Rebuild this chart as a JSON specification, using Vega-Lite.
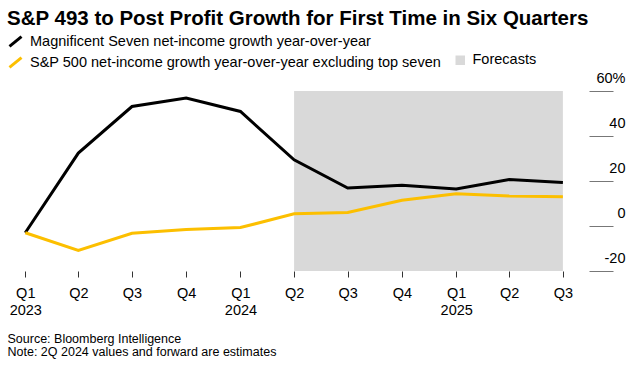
{
  "$schema": "https://vega.github.io/schema/vega-lite/v6.json",
  "width": 606,
  "height": 180,
  "autosize": {"type": "none"},
  "padding": {"left": 7, "top": 91, "right": 21, "bottom": 98},
  "background": "white",
  "config": {"font": "Liberation Sans", "view": {"stroke": null}},
  "title": {
    "text": "S&P 493 to Post Profit Growth for First Time in Six Quarters",
    "anchor": "start",
    "frame": "group",
    "fontSize": 20.5,
    "fontWeight": "bold",
    "color": "#000000",
    "baseline": "alphabetic",
    "offset": -11
  },
  "datasets": {
    "forecast": [
      {"start": "2024-04-01", "end": "2025-07-01", "label": "Forecasts"}
    ],
    "growth": [
      {"date": "2023-01-01", "series": "Magnificent Seven net-income growth year-over-year", "value": -3.0},
      {"date": "2023-04-01", "series": "Magnificent Seven net-income growth year-over-year", "value": 32.4},
      {"date": "2023-07-01", "series": "Magnificent Seven net-income growth year-over-year", "value": 53.1},
      {"date": "2023-10-01", "series": "Magnificent Seven net-income growth year-over-year", "value": 56.9},
      {"date": "2024-01-01", "series": "Magnificent Seven net-income growth year-over-year", "value": 50.9},
      {"date": "2024-04-01", "series": "Magnificent Seven net-income growth year-over-year", "value": 29.4},
      {"date": "2024-07-01", "series": "Magnificent Seven net-income growth year-over-year", "value": 16.9},
      {"date": "2024-10-01", "series": "Magnificent Seven net-income growth year-over-year", "value": 18.1},
      {"date": "2025-01-01", "series": "Magnificent Seven net-income growth year-over-year", "value": 16.5},
      {"date": "2025-04-01", "series": "Magnificent Seven net-income growth year-over-year", "value": 20.7},
      {"date": "2025-07-01", "series": "Magnificent Seven net-income growth year-over-year", "value": 19.3},
      {"date": "2023-01-01", "series": "S&P 500 net-income growth year-over-year excluding top seven", "value": -3.0},
      {"date": "2023-04-01", "series": "S&P 500 net-income growth year-over-year excluding top seven", "value": -10.9},
      {"date": "2023-07-01", "series": "S&P 500 net-income growth year-over-year excluding top seven", "value": -3.2},
      {"date": "2023-10-01", "series": "S&P 500 net-income growth year-over-year excluding top seven", "value": -1.6},
      {"date": "2024-01-01", "series": "S&P 500 net-income growth year-over-year excluding top seven", "value": -0.7},
      {"date": "2024-04-01", "series": "S&P 500 net-income growth year-over-year excluding top seven", "value": 5.4},
      {"date": "2024-07-01", "series": "S&P 500 net-income growth year-over-year excluding top seven", "value": 6.0},
      {"date": "2024-10-01", "series": "S&P 500 net-income growth year-over-year excluding top seven", "value": 11.4},
      {"date": "2025-01-01", "series": "S&P 500 net-income growth year-over-year excluding top seven", "value": 14.3},
      {"date": "2025-04-01", "series": "S&P 500 net-income growth year-over-year excluding top seven", "value": 13.3},
      {"date": "2025-07-01", "series": "S&P 500 net-income growth year-over-year excluding top seven", "value": 13.0}
    ]
  },
  "layer": [
    {
      "data": {"name": "forecast"},
      "mark": {"type": "rect", "fill": "#d9d9d9"},
      "encoding": {
        "x": {
          "field": "start",
          "type": "temporal",
          "scale": {
            "type": "utc",
            "domain": [
              {"year": 2022, "month": 12, "date": 1, "utc": true},
              {"year": 2025, "month": 9, "date": 24, "utc": true}
            ]
          },
          "axis": {
            "values": [
              {"year": 2023, "month": 1, "date": 1, "utc": true},
              {"year": 2023, "month": 4, "date": 1, "utc": true},
              {"year": 2023, "month": 7, "date": 1, "utc": true},
              {"year": 2023, "month": 10, "date": 1, "utc": true},
              {"year": 2024, "month": 1, "date": 1, "utc": true},
              {"year": 2024, "month": 4, "date": 1, "utc": true},
              {"year": 2024, "month": 7, "date": 1, "utc": true},
              {"year": 2024, "month": 10, "date": 1, "utc": true},
              {"year": 2025, "month": 1, "date": 1, "utc": true},
              {"year": 2025, "month": 4, "date": 1, "utc": true},
              {"year": 2025, "month": 7, "date": 1, "utc": true}
            ],
            "labelExpr": "utcquarter(datum.value) == 1 ? ['Q1', '' + utcyear(datum.value)] : 'Q' + utcquarter(datum.value)",
            "domain": false,
            "grid": false,
            "ticks": true,
            "tickSize": 6,
            "tickColor": "#333333",
            "tickWidth": 1,
            "labelFontSize": 14.5,
            "labelColor": "#000000",
            "labelPadding": 9,
            "labelLineHeight": 17,
            "labelFlush": false,
            "labelOverlap": false,
            "title": ["Source: Bloomberg Intelligence", "Note: 2Q 2024 values and forward are estimates"],
            "titleAnchor": "start",
            "titleAlign": "left",
            "titleBaseline": "top",
            "titleX": 0,
            "titleY": 61,
            "titleFontSize": 12.5,
            "titleFontWeight": "normal",
            "titleColor": "#000000",
            "titleLineHeight": 13.5
          }
        },
        "x2": {"field": "end"},
        "fill": {
          "field": "label",
          "type": "nominal",
          "scale": {"range": ["#d9d9d9"]},
          "legend": {
            "orient": "none",
            "legendX": 446,
            "legendY": -38,
            "title": null,
            "symbolType": "square",
            "symbolSize": 90,
            "symbolStrokeWidth": 0,
            "labelFontSize": 14.5,
            "labelColor": "#000000",
            "labelOffset": 5,
            "padding": 0
          }
        }
      }
    },
    {
      "mark": {"type": "rule", "color": "#777777", "strokeWidth": 1},
      "encoding": {"y": {"datum": 0, "type": "quantitative"}}
    },
    {
      "data": {"name": "growth"},
      "mark": {"type": "line", "strokeWidth": 3},
      "encoding": {
        "x": {"field": "date", "type": "temporal"},
        "y": {
          "field": "value",
          "type": "quantitative",
          "scale": {"domain": [-20, 60], "nice": false, "zero": false},
          "axis": {
            "orient": "right",
            "values": [-20, 0, 20, 40, 60],
            "labelExpr": "datum.value == 60 ? '60%' : datum.value + '\u00a0\u00a0\u00a0'",
            "domain": false,
            "grid": false,
            "tickSize": -24,
            "tickColor": "#777777",
            "tickWidth": 1,
            "labelAlign": "right",
            "labelBaseline": "middle",
            "labelOffset": -13,
            "labelPadding": 36,
            "labelFontSize": 14.5,
            "labelColor": "#000000",
            "title": null
          }
        },
        "stroke": {
          "field": "series",
          "type": "nominal",
          "scale": {
            "domain": ["Magnificent Seven net-income growth year-over-year", "S&P 500 net-income growth year-over-year excluding top seven"],
            "range": ["#000000", "#fcbf00"]
          },
          "legend": {
            "orient": "none",
            "legendX": 1,
            "legendY": -57,
            "direction": "vertical",
            "title": null,
            "symbolType": "M-1,0.8L1,-0.8",
            "symbolSize": 144,
            "symbolStrokeWidth": 3,
            "labelFontSize": 14.5,
            "labelColor": "#000000",
            "labelOffset": 7,
            "labelLimit": 600,
            "rowPadding": -2,
            "padding": 0
          }
        }
      }
    }
  ]
}
